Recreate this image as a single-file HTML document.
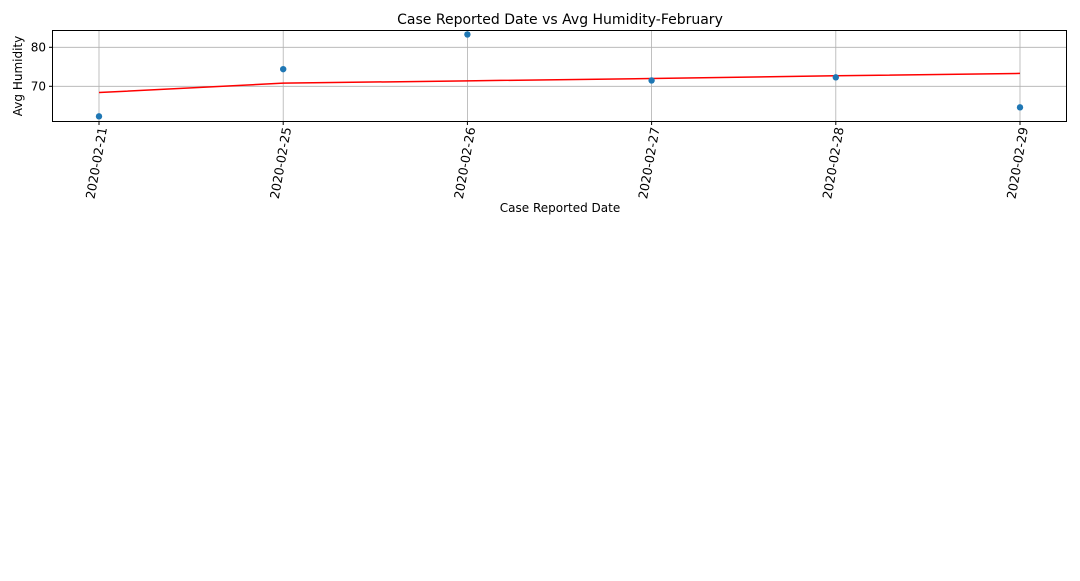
<!DOCTYPE html>
<html><head><meta charset="utf-8"><style>
body{margin:0;background:#fff;}
svg text{font-family:"DejaVu Sans","Liberation Sans",sans-serif;fill:#000;}
</style></head><body>
<svg id="chart" width="1080" height="576" xmlns="http://www.w3.org/2000/svg">
<g id="grid"></g>
<g id="marks"></g>
<rect x="52.5" y="30.5" width="1014" height="91" fill="none" stroke="#000" stroke-width="1"/>
<g id="axes"></g>
<text x="560" y="24" text-anchor="middle" font-size="14">Case Reported Date vs Avg Humidity-February</text>
<text x="560" y="212" text-anchor="middle" font-size="12">Case Reported Date</text>
<text transform="translate(22,76) rotate(-90)" text-anchor="middle" font-size="12">Avg Humidity</text>
</svg>
<script>
const categories=["2020-02-21","2020-02-25","2020-02-26","2020-02-27","2020-02-28","2020-02-29"];
const humidity=[62.3,74.4,83.3,71.5,72.3,64.6];
const trend=[68.4,70.8,71.4,72.0,72.7,73.3];
const yTicks=[70,80];
const NS="http://www.w3.org/2000/svg";
const x0=99,xStep=184.2;
function xs(i){return x0+i*xStep;}
function ys(v){return 86.3-(v-70)*3.9;}
function mk(t,a,p){const e=document.createElementNS(NS,t);for(const k in a)e.setAttribute(k,a[k]);p.appendChild(e);return e;}
const grid=document.getElementById('grid'),marks=document.getElementById('marks'),axes=document.getElementById('axes');
categories.forEach((c,i)=>{
 const x=xs(i);
 const g=mk('line',{x1:x,x2:x,y1:30.5,y2:121.5,stroke:'#b0b0b0','stroke-width':0.8},grid);
 
 
 const t=mk('line',{x1:x,x2:x,y1:121.5,y2:125,stroke:'#000'},axes);
 
 
 const l=mk('text',{transform:`translate(${x+8},128) rotate(-80)`,'text-anchor':'end','font-size':12.5},axes);
 l.textContent=c;
 
 
});
yTicks.forEach(v=>{
 const y=ys(v);
 const g=mk('line',{x1:52.5,x2:1066.5,y1:y,y2:y,stroke:'#b0b0b0','stroke-width':0.8},grid);
 
 
 const t=mk('line',{x1:49,x2:52.5,y1:y,y2:y,stroke:'#000'},axes);
 
 
 const l=mk('text',{x:46,y:y+4,'text-anchor':'end','font-size':12},axes);
 l.textContent=v;
 
 
});
const pl=mk('polyline',{points:trend.map((v,i)=>xs(i)+','+ys(v)).join(' '),fill:'none',stroke:'#ff0000','stroke-width':1.5},marks);


humidity.forEach((v,i)=>{
 const c=mk('circle',{cx:xs(i),cy:ys(v),r:3.2,fill:'#1f77b4'},marks);
 
 
});
</script>
</body></html>
